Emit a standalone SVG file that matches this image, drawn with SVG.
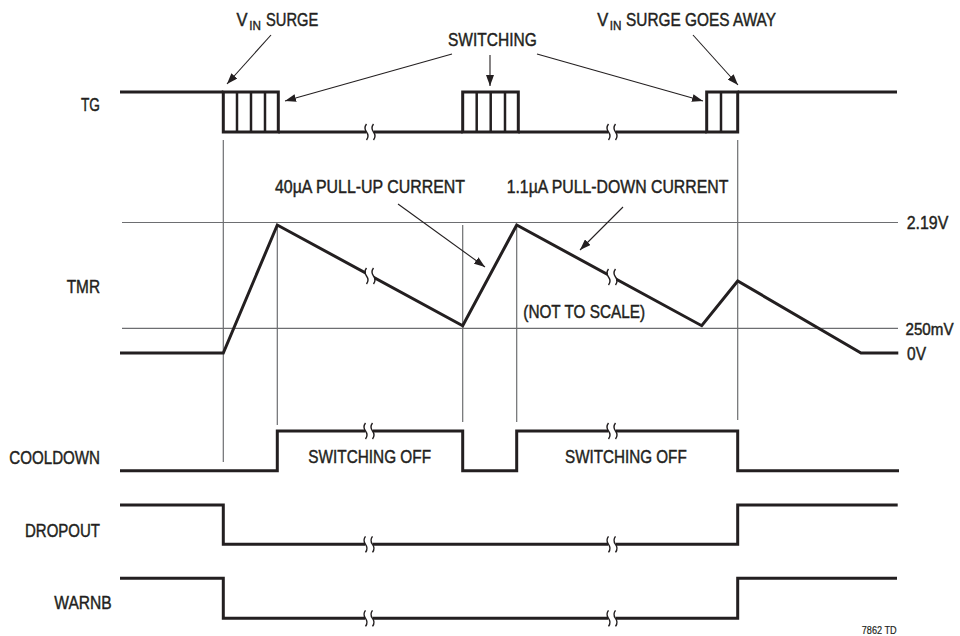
<svg xmlns="http://www.w3.org/2000/svg" xmlns:xlink="http://www.w3.org/1999/xlink" width="960" height="636" viewBox="0 0 960 636">
<style>
  .wave { fill: none; stroke: #231f20; stroke-width: 3; stroke-linejoin: miter; stroke-linecap: butt; }
  .box { fill: none; stroke: #231f20; stroke-width: 3; }
  .inner { fill: none; stroke: #231f20; stroke-width: 2.5; }
  .grid { fill: none; stroke: #6d6e71; stroke-width: 1.2; }
  .arrow { fill: none; stroke: #231f20; stroke-width: 1.1; marker-end: url(#ah); }
  .t { font-family: "Liberation Sans Narrow", "Liberation Sans", Arial, sans-serif; font-size: 18.5px; fill: #231f20; stroke: #231f20; stroke-width: 0.45; }
  .sub { font-family: "Liberation Sans Narrow", "Liberation Sans", Arial, sans-serif; font-size: 13.5px; fill: #231f20; stroke: #231f20; stroke-width: 0.4; }
  .small { font-family: "Liberation Sans Narrow", "Liberation Sans", Arial, sans-serif; font-size: 11.5px; fill: #231f20; stroke: #231f20; stroke-width: 0.2; }
  .brk-bg { fill: #ffffff; stroke: none; }
  .brk { fill: none; stroke: #231f20; stroke-width: 1.4; }
</style>
<defs>
  <marker id="ah" markerUnits="userSpaceOnUse" markerWidth="12" markerHeight="8" refX="11" refY="4" orient="auto">
    <path d="M0,0 L11,4 L0,8 Z" fill="#231f20"/>
  </marker>
  <g id="brk">
    <rect class="brk-bg" x="-4" y="-6" width="8" height="12"/>
    <path class="brk" d="M-3.5,-8 q-3,4 0,8 q3,4 0,8"/>
    <path class="brk" d="M3.5,-8 q-3,4 0,8 q3,4 0,8"/>
  </g>
</defs>

<rect width="960" height="636" fill="#ffffff"/>

<!-- reference grid lines -->
<g id="grid">
  <line class="grid" x1="122" y1="222.5" x2="898" y2="222.5"/>
  <line class="grid" x1="122" y1="328.3" x2="898" y2="328.3"/>
  <line class="grid" x1="223.3" y1="140" x2="223.3" y2="462"/>
  <line class="grid" x1="277.3" y1="225" x2="277.3" y2="425"/>
  <line class="grid" x1="462.7" y1="225" x2="462.7" y2="422"/>
  <line class="grid" x1="516.7" y1="225" x2="516.7" y2="422"/>
  <line class="grid" x1="737.7" y1="140" x2="737.7" y2="420"/>
</g>

<!-- signal labels -->
<g id="labels">
  <text class="t" x="81" y="111" textLength="19" lengthAdjust="spacingAndGlyphs">TG</text>
  <text class="t" x="66.7" y="293.3" textLength="33.3" lengthAdjust="spacingAndGlyphs">TMR</text>
  <text class="t" x="9.3" y="464" textLength="90.7" lengthAdjust="spacingAndGlyphs">COOLDOWN</text>
  <text class="t" x="25" y="536.7" textLength="75" lengthAdjust="spacingAndGlyphs">DROPOUT</text>
  <text class="t" x="54.3" y="609.3" textLength="57.4" lengthAdjust="spacingAndGlyphs">WARNB</text>
</g>

<!-- TG waveform -->
<g id="tg">
  <line class="wave" x1="120" y1="92" x2="223.3" y2="92"/>
  <rect class="box" x="223.3" y="92" width="55" height="40"/>
  <line class="inner" x1="237" y1="92" x2="237" y2="132"/>
  <line class="inner" x1="251" y1="92" x2="251" y2="132"/>
  <line class="inner" x1="265" y1="92" x2="265" y2="132"/>
  <line class="wave" x1="278.3" y1="132" x2="462.7" y2="132"/>
  <rect class="box" x="462.7" y="92" width="55.6" height="40"/>
  <line class="inner" x1="476.7" y1="92" x2="476.7" y2="132"/>
  <line class="inner" x1="490.7" y1="92" x2="490.7" y2="132"/>
  <line class="inner" x1="505" y1="92" x2="505" y2="132"/>
  <line class="wave" x1="518.3" y1="132" x2="706.7" y2="132"/>
  <rect class="box" x="706.7" y="92" width="31" height="40"/>
  <line class="inner" x1="721" y1="92" x2="721" y2="132"/>
  <line class="wave" x1="737.7" y1="92" x2="897" y2="92"/>
  <use xlink:href="#brk" x="370" y="132"/>
  <use xlink:href="#brk" x="612" y="132"/>
</g>

<!-- TMR waveform -->
<g id="tmr">
  <polyline class="wave" points="120,353 223.3,353 277.3,225 462.7,325.7 516.7,225 701.7,325.7 737.7,281 861,353 898.3,353"/>
  <use xlink:href="#brk" x="370" y="276"/>
  <use xlink:href="#brk" x="612" y="277"/>
  <text class="t" x="906.7" y="229" textLength="41.6" lengthAdjust="spacingAndGlyphs">2.19V</text>
  <text class="t" x="905.5" y="335" style="font-size:16px" textLength="48" lengthAdjust="spacingAndGlyphs">250mV</text>
  <text class="t" x="907" y="359.5" textLength="19" lengthAdjust="spacingAndGlyphs">0V</text>
  <text class="t" x="523.3" y="317.5" textLength="121.7" lengthAdjust="spacingAndGlyphs">(NOT TO SCALE)</text>
</g>

<!-- COOLDOWN waveform -->
<g id="cooldown">
  <polyline class="wave" points="120,470.7 277.3,470.7 277.3,431 462.7,431 462.7,470.7 516.7,470.7 516.7,431 737.7,431 737.7,470.7 899,470.7"/>
  <use xlink:href="#brk" x="369" y="431"/>
  <use xlink:href="#brk" x="612" y="431"/>
  <text class="t" x="308.3" y="463" textLength="122.7" lengthAdjust="spacingAndGlyphs">SWITCHING OFF</text>
  <text class="t" x="565" y="463" textLength="121.7" lengthAdjust="spacingAndGlyphs">SWITCHING OFF</text>
</g>

<!-- DROPOUT waveform -->
<g id="dropout">
  <polyline class="wave" points="120,505 223.3,505 223.3,544.3 737.7,544.3 737.7,505 897.7,505"/>
  <use xlink:href="#brk" x="369" y="544.3"/>
  <use xlink:href="#brk" x="612" y="544.3"/>
</g>

<!-- WARNB waveform -->
<g id="warnb">
  <polyline class="wave" points="120,578.3 223.3,578.3 223.3,618.3 737.7,618.3 737.7,578.3 897,578.3"/>
  <use xlink:href="#brk" x="369" y="618.3"/>
  <use xlink:href="#brk" x="612" y="618.3"/>
</g>

<!-- annotations -->
<g id="vin-surge">
  <text class="t" x="236.5" y="26" textLength="11" lengthAdjust="spacingAndGlyphs">V</text>
  <text class="sub" x="249.3" y="29.5" textLength="11.7" lengthAdjust="spacingAndGlyphs">IN</text>
  <text class="t" x="266" y="26" textLength="52.3" lengthAdjust="spacingAndGlyphs">SURGE</text>
</g>
<g id="switching">
  <text class="t" x="448" y="46" textLength="88.7" lengthAdjust="spacingAndGlyphs">SWITCHING</text>
</g>
<g id="vin-surge-goes-away">
  <text class="t" x="597.3" y="26" textLength="11" lengthAdjust="spacingAndGlyphs">V</text>
  <text class="sub" x="609.8" y="29.5" textLength="11.7" lengthAdjust="spacingAndGlyphs">IN</text>
  <text class="t" x="626" y="26" textLength="150" lengthAdjust="spacingAndGlyphs">SURGE GOES AWAY</text>
</g>
<g id="pull-up">
  <text class="t" x="275" y="193" textLength="190" lengthAdjust="spacingAndGlyphs">40µA PULL-UP CURRENT</text>
</g>
<g id="pull-down">
  <text class="t" x="506.7" y="193" textLength="221.6" lengthAdjust="spacingAndGlyphs">1.1µA PULL-DOWN CURRENT</text>
</g>
<g id="footnote">
  <text class="small" x="861.7" y="634" textLength="35" lengthAdjust="spacingAndGlyphs">7862 TD</text>
</g>

<!-- connectors -->
<g id="connectors">
  <line class="arrow" x1="271" y1="35" x2="227" y2="84"/>
  <line class="arrow" x1="452" y1="54" x2="285" y2="101"/>
  <line class="arrow" x1="490" y1="55" x2="490" y2="86"/>
  <line class="arrow" x1="537" y1="54" x2="703" y2="101"/>
  <line class="arrow" x1="693" y1="35" x2="738" y2="85"/>
  <line class="arrow" x1="398" y1="204" x2="485" y2="267"/>
  <line class="arrow" x1="623" y1="207" x2="580" y2="250"/>
</g>
</svg>
